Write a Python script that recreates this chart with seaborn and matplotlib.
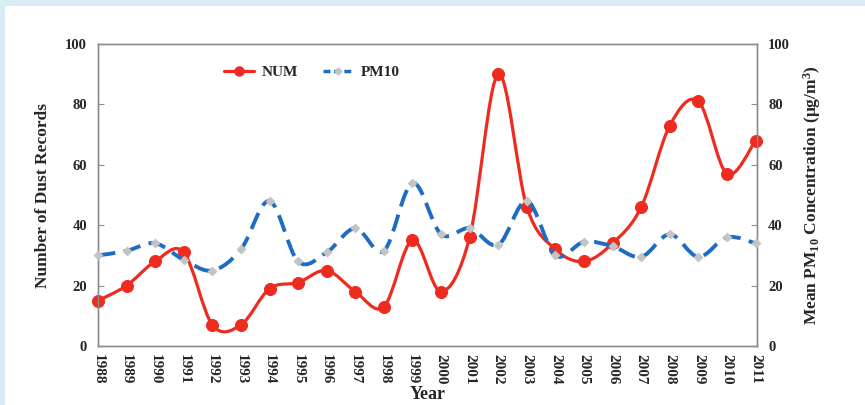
import numpy as np
import pandas as pd
import matplotlib
matplotlib.use("Agg")
import matplotlib.pyplot as plt
import seaborn as sns
from matplotlib.path import Path
from matplotlib.patches import PathPatch, Rectangle
from matplotlib.lines import Line2D

sns.set_style("white")
plt.rcParams["font.family"] = ["Liberation Serif", "DejaVu Serif"]
plt.rcParams["mathtext.fontset"] = "custom"
plt.rcParams["mathtext.rm"] = "Liberation Serif:bold"
plt.rcParams["mathtext.it"] = "Liberation Serif:bold"
plt.rcParams["mathtext.bf"] = "Liberation Serif:bold"

# ---- data ----
years = list(range(1988, 2012))
num_records = [15, 20, 28, 31, 7, 7, 19, 21, 25, 18, 13, 35,
               18, 36, 90, 46, 32, 28, 34, 46, 73, 81, 57, 68]
pm10 = [30, 31.5, 34, 28.5, 25, 32, 48, 28, 31, 39, 31.5, 54,
        37, 39, 33.5, 48, 30, 34.5, 33, 29.5, 37, 29.5, 36, 34]
y_ticks = [0, 20, 40, 60, 80, 100]

df = pd.DataFrame({"Year": years, "NUM": num_records, "PM10": pm10})

RED = "#ee2b1f"
BLUE = "#1e6cc4"
GREY = "#c4c4c4"


def smooth_path(xs, ys):
    # Excel-style smoothed line: Catmull-Rom segments drawn as cubic Beziers
    pts = np.column_stack([xs, ys]).astype(float)
    verts = [pts[0]]
    codes = [Path.MOVETO]
    n = len(pts)
    for i in range(n - 1):
        p0 = pts[i - 1] if i > 0 else pts[i]
        p1, p2 = pts[i], pts[i + 1]
        p3 = pts[i + 2] if i + 2 < n else pts[i + 1]
        c1 = p1 + (p2 - p0) / 6.0
        c2 = p2 - (p3 - p1) / 6.0
        verts += [c1, c2, p2]
        codes += [Path.CURVE4] * 3
    return Path(verts, codes)


fig = plt.figure(figsize=(8.65, 4.05), dpi=100)
fig.patch.set_facecolor("#d8ecf3")
fig.patches.append(Rectangle((5 / 865, 0), 1, 1 - 6 / 405, transform=fig.transFigure,
                             facecolor="white", edgecolor="none", zorder=-10))

ax = fig.add_axes([98 / 865, 1 - 346 / 405, (757 - 98) / 865, (346 - 44) / 405])
ax.set_facecolor("none")
ax2 = ax.twinx()

# NUM on left axis
ax.add_patch(PathPatch(smooth_path(df["Year"], df["NUM"]), facecolor="none",
                       edgecolor=RED, lw=2.3, zorder=3, clip_on=False))
sns.scatterplot(data=df, x="Year", y="NUM", ax=ax, color=RED, edgecolor=RED,
                s=75, marker="o", zorder=4, clip_on=False, legend=False)

# PM10 on right axis
ax2.add_patch(PathPatch(smooth_path(df["Year"], df["PM10"]), facecolor="none",
                        edgecolor=BLUE, lw=2.8, linestyle=(0, (4.5, 2.2)),
                        zorder=3, clip_on=False))
sns.scatterplot(data=df, x="Year", y="PM10", ax=ax2, color=GREY, edgecolor=GREY,
                s=22, marker="D", zorder=4, clip_on=False, legend=False)

for a in (ax, ax2):
    a.set_xlim(1988, 2011.05)
    a.set_ylim(0, 100)
    a.set_yticks(y_ticks)
    for s in a.spines.values():
        s.set_color("#8c8c8c")
        s.set_linewidth(1.0)

ax.set_xticks(years)
ax.set_xticklabels([str(y) for y in years], rotation=270, fontsize=11, fontweight="bold")
ax.tick_params(axis="x", direction="in", length=4, color="#8c8c8c", pad=6)
ax.tick_params(axis="y", direction="in", length=4, color="#8c8c8c", labelsize=10.5, pad=8)
ax2.tick_params(axis="y", direction="in", length=4, color="#8c8c8c", labelsize=10.5, pad=8)
for lab in ax.get_yticklabels() + ax2.get_yticklabels():
    lab.set_fontweight("bold")

ax.set_xlabel("Year", fontsize=13, fontweight="bold", labelpad=1)
ax.set_ylabel("Number of Dust Records", fontsize=12.5, fontweight="bold", labelpad=10)
ax2.set_ylabel(r"Mean PM$_{10}$ Concentration ($\mu$g/m$^3$)", fontsize=12.5,
               fontweight="bold", labelpad=8)

handles = [
    Line2D([], [], color=RED, lw=2.3, marker="o", markersize=6.5, label="NUM"),
    Line2D([], [], color=BLUE, lw=2.5, linestyle=(0, (2.0, 1.0)), marker="D",
           markersize=3.5, markerfacecolor=GREY, markeredgecolor=GREY, label="PM10"),
]
ax.legend(handles=handles, loc="upper left", bbox_to_anchor=(0.17, 0.975), ncol=2,
          frameon=False, prop={"weight": "bold", "size": 11},
          handlelength=2.0, handletextpad=0.5, columnspacing=1.6)

plt.savefig("out.png", dpi=100)
plt.close()
